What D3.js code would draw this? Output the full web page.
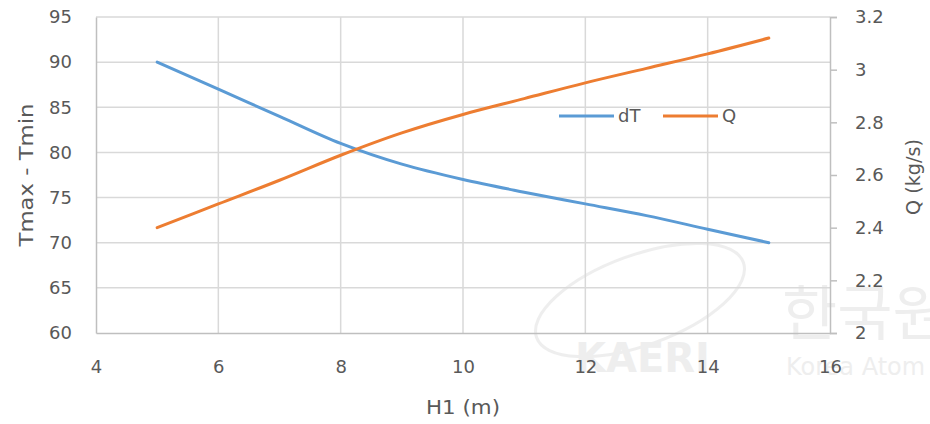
<!DOCTYPE html>
<html>
<head>
<meta charset="utf-8">
<script src="https://cdn.jsdelivr.net/npm/d3@7"></script>
<style>
  body { margin: 0; background: #fff; }
  text { font-family: "DejaVu Sans", sans-serif; fill: #595959; }
  .grid-line { stroke: #d9d9d9; stroke-width: 1.5; }
  .axis-line { stroke: #bfbfbf; stroke-width: 1.5; }
</style>
</head>
<body>
<div id="wrapper"></div>
<script>
// data
const heights = [5, 6, 7, 8, 9, 10, 11, 12, 13, 14, 15]
const dT = [90, 87.0, 84.0, 81.0, 78.7, 77.0, 75.6, 74.3, 73.0, 71.5, 70]
const Q = [2.40, 2.49, 2.58, 2.675, 2.76, 2.83, 2.89, 2.95, 3.005, 3.06, 3.12]
const xTicks = [4, 6, 8, 10, 12, 14, 16]
const leftTicks = [60, 65, 70, 75, 80, 85, 90, 95]
const rightTicks = [2, 2.2, 2.4, 2.6, 2.8, 3, 3.2]

const dimensions = {
  width: 930,
  height: 424,
  margin: { top: 17, right: 100, bottom: 91, left: 96 },
}
dimensions.boundedWidth = dimensions.width - dimensions.margin.left - dimensions.margin.right
dimensions.boundedHeight = dimensions.height - dimensions.margin.top - dimensions.margin.bottom

const svg = d3.select("#wrapper").append("svg")
  .attr("width", dimensions.width)
  .attr("height", dimensions.height)

// faint watermark behind everything
const mark = svg.append("g").style("opacity", 0.3)
mark.append("ellipse").attr("cx", 640).attr("cy", 300).attr("rx", 110).attr("ry", 45)
  .attr("transform", "rotate(-20 640 300)")
  .attr("fill", "none").attr("stroke", "#c8c8c8").attr("stroke-width", 3)
mark.append("text").attr("x", 575).attr("y", 372).text("KAERI")
  .style("font-size", "40px").style("font-weight", "bold").style("fill", "#c8c8c8")
mark.append("text").attr("x", 782).attr("y", 335).text("한국원")
  .style("font-family", "Noto Sans CJK KR").style("font-size", "60px").style("fill", "#c8c8c8")
mark.append("text").attr("x", 786).attr("y", 375).text("Korea Atom")
  .style("font-size", "24px").style("fill", "#c8c8c8")

const bounds = svg.append("g")
  .attr("transform", `translate(${dimensions.margin.left}, ${dimensions.margin.top})`)

const xScale = d3.scaleLinear().domain([4, 16]).range([0, dimensions.boundedWidth])
const yLeft = d3.scaleLinear().domain([60, 95]).range([dimensions.boundedHeight, 0])
const yRight = d3.scaleLinear().domain([2, 3.2]).range([dimensions.boundedHeight, 0])

// grid
const grid = bounds.append("g")
grid.selectAll(".h").data(leftTicks.slice(1)).join("line")
  .attr("class", "grid-line")
  .attr("x1", 0).attr("x2", dimensions.boundedWidth)
  .attr("y1", d => yLeft(d)).attr("y2", d => yLeft(d))
grid.selectAll(".v").data(xTicks.slice(1, -1)).join("line")
  .attr("class", "grid-line")
  .attr("x1", d => xScale(d)).attr("x2", d => xScale(d))
  .attr("y1", 0).attr("y2", dimensions.boundedHeight)

// axes
const xAxis = bounds.append("g")
  .attr("transform", `translate(0, ${dimensions.boundedHeight})`)
  .call(d3.axisBottom(xScale).tickValues(xTicks).tickSize(0).tickPadding(24))
const leftAxis = bounds.append("g")
  .call(d3.axisLeft(yLeft).tickValues(leftTicks).tickSize(0).tickPadding(24))
const rightAxis = bounds.append("g")
  .attr("transform", `translate(${dimensions.boundedWidth}, 0)`)
  .call(d3.axisRight(yRight).tickValues(rightTicks).tickSize(7).tickPadding(18).tickFormat(d3.format("~g")))

;[xAxis, leftAxis, rightAxis].forEach(a => {
  a.select(".domain").attr("class", "domain axis-line").attr("stroke", "#bfbfbf")
  a.selectAll(".tick line").attr("stroke", "#bfbfbf").attr("stroke-width", 1.5)
  a.selectAll(".tick text").style("font-size", "18px").attr("fill", "#595959")
})
xAxis.selectAll(".tick text").attr("dy", "0.9em")
rightAxis.selectAll(".tick text").attr("x", 25)

// axis titles
svg.append("text")
  .attr("transform", `translate(33, ${dimensions.margin.top + dimensions.boundedHeight / 2}) rotate(-90)`)
  .attr("text-anchor", "middle")
  .attr("textLength", 143).attr("lengthAdjust", "spacingAndGlyphs")
  .style("font-size", "20px")
  .text("Tmax - Tmin")
svg.append("text")
  .attr("transform", `translate(920, ${dimensions.margin.top + dimensions.boundedHeight / 2 + 2}) rotate(-90)`)
  .attr("text-anchor", "middle")
  .attr("textLength", 76).attr("lengthAdjust", "spacingAndGlyphs")
  .style("font-size", "19px")
  .text("Q (kg/s)")
svg.append("text")
  .attr("x", dimensions.margin.left + dimensions.boundedWidth / 2)
  .attr("y", 414)
  .attr("text-anchor", "middle")
  .attr("textLength", 74).attr("lengthAdjust", "spacingAndGlyphs")
  .style("font-size", "20px")
  .text("H1 (m)")

// lines
const dTLine = d3.line()
  .x((d, i) => xScale(heights[i]))
  .y(d => yLeft(d))
  .curve(d3.curveCatmullRom)
const QLine = d3.line()
  .x((d, i) => xScale(heights[i]))
  .y(d => yRight(d))
  .curve(d3.curveCatmullRom)

bounds.append("path").datum(dT)
  .attr("d", dTLine)
  .attr("fill", "none").attr("stroke", "#5b9bd5").attr("stroke-width", 3).attr("stroke-linecap", "round")
bounds.append("path").datum(Q)
  .attr("d", QLine)
  .attr("fill", "none").attr("stroke", "#ed7d31").attr("stroke-width", 3).attr("stroke-linecap", "round")

// legend
const legendItems = [
  { name: "dT", color: "#5b9bd5", x: 559 },
  { name: "Q", color: "#ed7d31", x: 663 },
]
const legend = svg.append("g")
legendItems.forEach(item => {
  legend.append("line")
    .attr("x1", item.x).attr("x2", item.x + 55)
    .attr("y1", 116).attr("y2", 116)
    .attr("stroke", item.color).attr("stroke-width", 3)
  legend.append("text")
    .attr("x", item.x + 59).attr("y", 116).attr("dy", "0.35em")
    .style("font-size", "18px")
    .text(item.name)
})
</script>
</body>
</html>
